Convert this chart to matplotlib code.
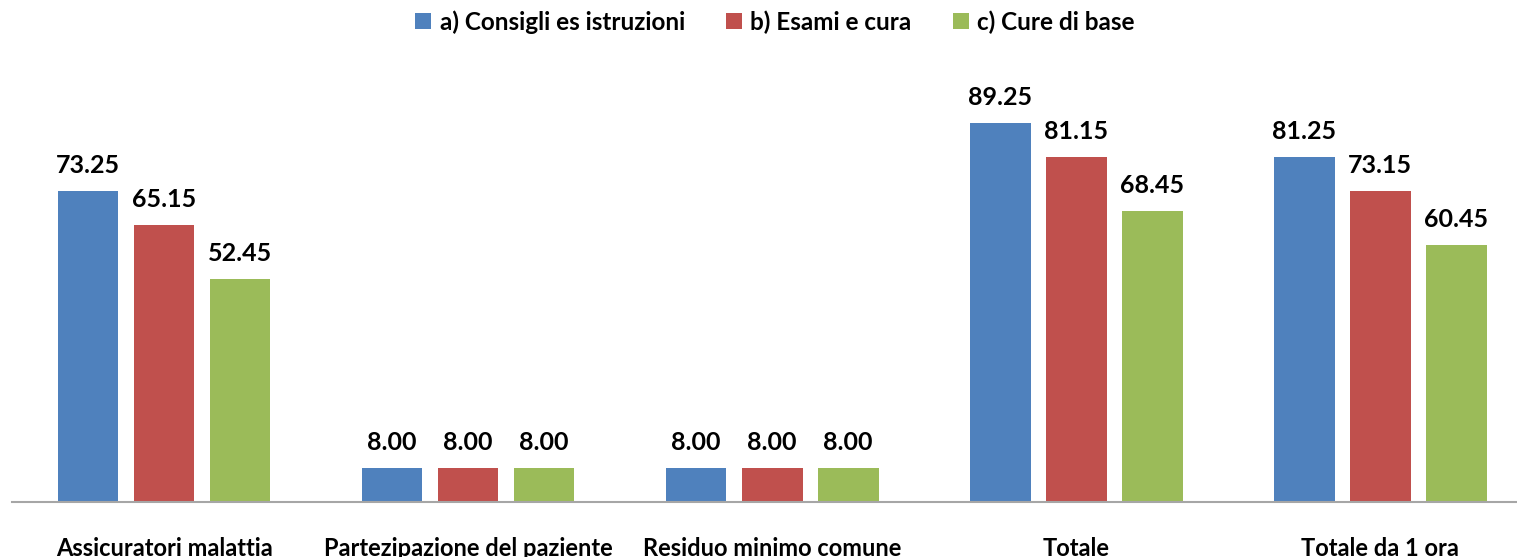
import numpy as np
import matplotlib.pyplot as plt

categories = ["Assicuratori malattia", "Partezipazione del paziente",
              "Residuo minimo comune", "Totale", "Totale da 1 ora"]
series_names = ["a) Consigli es istruzioni", "b) Esami e cura", "c) Cure di base"]
consigli = [73.25, 8.00, 8.00, 89.25, 81.25]
esami = [65.15, 8.00, 8.00, 81.15, 73.15]
cure = [52.45, 8.00, 8.00, 68.45, 60.45]
colors = ["#4F81BD", "#C0504D", "#9BBB59"]

plt.rcParams['font.family'] = ['Lato', 'DejaVu Sans']

fig = plt.figure(figsize=(15.17, 5.57), dpi=100)
ax = fig.add_axes([12 / 1517, 55 / 557, 1505 / 1517, (502 - 85) / 557])

x = np.arange(len(categories))
width = 0.2
step = 0.25
for i, (vals, name, col) in enumerate(zip([consigli, esami, cure], series_names, colors)):
    pos = x + (i - 1) * step
    bars = ax.bar(pos, vals, width, color=col, label=name)
    for b, v in zip(bars, vals):
        ax.annotate(f"{v:.2f}", (b.get_x() + b.get_width() / 2, v),
                    xytext=(0, 14), textcoords='offset pixels',
                    ha='center', va='bottom', fontsize=18, fontweight='bold')

ax.set_xlim(-0.5, 4.45)
ax.set_ylim(0, 98.2)
ax.set_yticks([])
ax.set_xticks(x)
ax.set_xticklabels(categories, fontsize=17, fontweight='bold')
ax.tick_params(axis='x', length=0, pad=25)
for s in ['top', 'right', 'left']:
    ax.spines[s].set_visible(False)
ax.spines['bottom'].set_color('#A6A6A6')
ax.spines['bottom'].set_linewidth(1.5)

leg = ax.legend(loc='center', bbox_to_anchor=(775 / 1517, 1 - 22 / 557), bbox_transform=fig.transFigure,
                ncol=3, frameon=False, fontsize=17.5, handlelength=0.65, handleheight=0.65,
                handletextpad=0.35, columnspacing=1.7)
for t in leg.get_texts():
    t.set_fontweight('bold')

fig.savefig("out.png", dpi=100)
